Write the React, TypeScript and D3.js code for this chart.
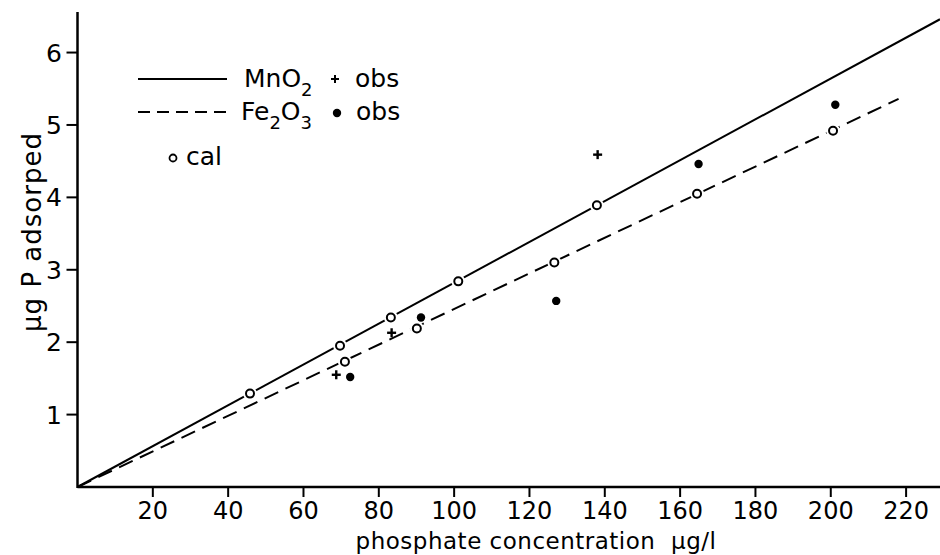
import React from "react";
import * as d3 from "d3";

const xTicks = [20, 40, 60, 80, 100, 120, 140, 160, 180, 200, 220];
const yTicks = [1, 2, 3, 4, 5, 6];

const calX = [45.8, 69.7, 71.0, 83.2, 90.1, 101.1, 126.6, 137.9, 164.5, 200.6];
const calY = [1.29, 1.95, 1.73, 2.34, 2.19, 2.84, 3.1, 3.89, 4.05, 4.92];

const mnObsX = [68.7, 83.4, 138.1];
const mnObsY = [1.55, 2.13, 4.59];

const feObsX = [72.4, 91.2, 127.1, 164.9, 201.2];
const feObsY = [1.52, 2.34, 2.57, 4.46, 5.28];

const mnLineX = [0, 229];
const mnLineY = [0, 6.46];
const feLineX = [0, 218];
const feLineY = [0, 5.36];

const W = 940;
const H = 555;
const FONT = "'DejaVu Sans', sans-serif";

export default function App() {
  const x = d3.scaleLinear().domain([0, 229]).range([77.5, 940]);
  const y = d3.scaleLinear().domain([0, 6.56]).range([487, 12]);
  const line = d3
    .line<[number, number]>()
    .x((d) => x(d[0]))
    .y((d) => y(d[1]));
  const mnPts = mnLineX.map((v, i) => [v, mnLineY[i]] as [number, number]);
  const fePts = feLineX.map((v, i) => [v, feLineY[i]] as [number, number]);

  return (
    <svg
      width={W}
      height={H}
      style={{ position: "absolute", left: 0, top: 0, background: "#fff" }}
      fontFamily={FONT}
    >
      <rect width={W} height={H} fill="#fff" />
      {/* fitted lines */}
      <path d={line(mnPts) || ""} stroke="#000" strokeWidth={2} fill="none" />
      <path
        d={line(fePts) || ""}
        stroke="#000"
        strokeWidth={2}
        fill="none"
        strokeDasharray="15 8"
      />
      {/* axes */}
      <line x1={x(0)} x2={940} y1={y(0)} y2={y(0)} stroke="#000" strokeWidth={2.5} />
      <line x1={x(0)} x2={x(0)} y1={y(0) + 1} y2={12} stroke="#000" strokeWidth={2.5} />
      {xTicks.map((t) => (
        <g key={"xt" + t}>
          <line x1={x(t)} x2={x(t)} y1={y(0)} y2={y(0) + 10} stroke="#000" strokeWidth={2} />
          <text x={x(t)} y={519} textAnchor="middle" fontSize={24} fill="#000">
            {t}
          </text>
        </g>
      ))}
      {yTicks.map((t) => (
        <g key={"yt" + t}>
          <line x1={x(0) - 11} x2={x(0)} y1={y(t)} y2={y(t)} stroke="#000" strokeWidth={2} />
          <text x={62} y={y(t) + 9} textAnchor="end" fontSize={25} fill="#000">
            {t}
          </text>
        </g>
      ))}
      <text x={536} y={549} textAnchor="middle" fontSize={23} letterSpacing={0.5} fill="#000">
        {"phosphate concentration\u00a0\u00a0µg/l"}
      </text>
      <text
        transform={`translate(41,232) rotate(-90)`}
        textAnchor="middle"
        fontSize={26}
        letterSpacing={1}
        fill="#000"
      >
        µg P adsorped
      </text>

      {/* calculated points (open circles with white halo) */}
      {calX.map((v, i) => (
        <g key={"c" + i}>
          <circle cx={x(v)} cy={y(calY[i])} r={7} fill="#fff" />
          <circle cx={x(v)} cy={y(calY[i])} r={4} fill="#fff" stroke="#000" strokeWidth={2} />
        </g>
      ))}
      {/* MnO2 observed: plus */}
      {mnObsX.map((v, i) => (
        <g key={"m" + i} stroke="#000" strokeWidth={2.4}>
          <line x1={x(v) - 4.5} x2={x(v) + 4.5} y1={y(mnObsY[i])} y2={y(mnObsY[i])} />
          <line x1={x(v)} x2={x(v)} y1={y(mnObsY[i]) - 4.5} y2={y(mnObsY[i]) + 4.5} />
        </g>
      ))}
      {/* Fe2O3 observed: filled dots */}
      {feObsX.map((v, i) => (
        <circle key={"f" + i} cx={x(v)} cy={y(feObsY[i])} r={4.2} fill="#000" />
      ))}

      {/* legend */}
      <line x1={138} x2={227} y1={79} y2={79} stroke="#000" strokeWidth={2} />
      <text x={244} y={87} fontSize={25} fill="#000">
        MnO<tspan dy={9} fontSize={18}>2</tspan>
      </text>
      <g stroke="#000" strokeWidth={2}>
        <line x1={331} x2={339} y1={79} y2={79} />
        <line x1={335} x2={335} y1={75} y2={83} />
      </g>
      <text x={355} y={87} fontSize={25} fill="#000">
        obs
      </text>

      <line
        x1={138}
        x2={227}
        y1={112}
        y2={112}
        stroke="#000"
        strokeWidth={2}
        strokeDasharray="12 7"
      />
      <text x={241} y={120} fontSize={25} fill="#000">
        Fe<tspan dy={9} fontSize={18}>2</tspan>
        <tspan dy={-9}>O</tspan>
        <tspan dy={9} fontSize={18}>3</tspan>
      </text>
      <circle cx={337} cy={113} r={4.2} fill="#000" />
      <text x={356} y={120} fontSize={25} fill="#000">
        obs
      </text>

      <circle cx={173} cy={158} r={3.5} fill="#fff" stroke="#000" strokeWidth={1.8} />
      <text x={186} y={165} fontSize={25} fill="#000">
        cal
      </text>
    </svg>
  );
}
